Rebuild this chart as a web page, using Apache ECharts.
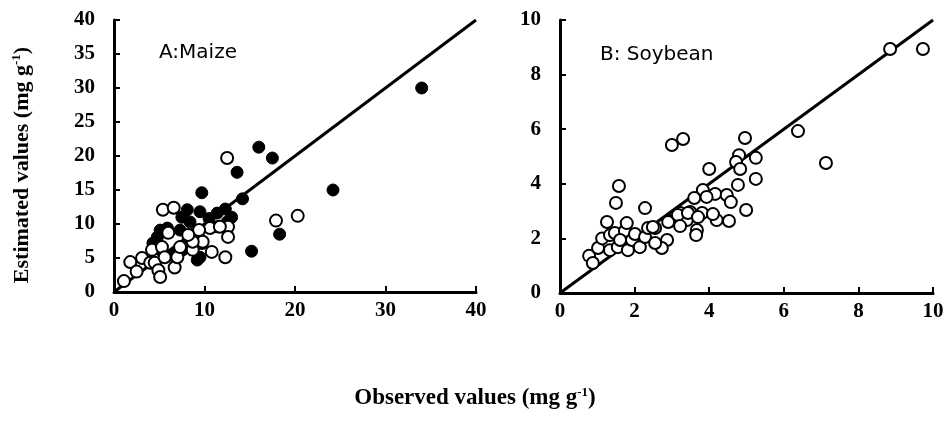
<!DOCTYPE html>
<html>
<head>
<meta charset="utf-8">
<script src="https://cdn.jsdelivr.net/npm/echarts@6/dist/echarts.min.js"></script>
<style>
  html, body { margin: 0; padding: 0; background: #fff; }
  #main { width: 947px; height: 422px; }
</style>
</head>
<body>
<div id="main"></div>
<script>
// Panel A: maize, [observed, estimated]
var maizeFilled = [
  [34, 30], [24.2, 15], [18.3, 8.5], [16, 21.3], [17.5, 19.7], [15.2, 6],
  [13.6, 17.6], [9.7, 14.6], [14.2, 13.7], [8.1, 12.1], [9.5, 11.8], [8.4, 10.3],
  [11.4, 11.6], [12.3, 12.2], [4.8, 8.1], [5.1, 6.2], [7.3, 9.1], [7.6, 6.2],
  [9.2, 4.7], [9.5, 5.1], [8.4, 7.6], [6.4, 5.4], [9.3, 8.7], [11.4, 9.6],
  [12.5, 10.3], [5.1, 9.1], [5.9, 9.4], [7.5, 11.0], [4.3, 7.2], [10.5, 10.8],
  [13, 11], [8.8, 8.5]
];
var maizeOpen = [
  [12.5, 19.7], [17.9, 10.5], [20.3, 11.2], [12.3, 5.1], [12.6, 9.6], [12.6, 8.1],
  [10.6, 9.4], [9.4, 9.1], [9.7, 7.2], [8.3, 6.6], [1.1, 1.6], [1.8, 4.4],
  [2.5, 3.0], [3.1, 5.0], [4.0, 4.3], [4.2, 6.2], [4.5, 4.3], [4.9, 3.2],
  [5.1, 2.2], [5.3, 6.6], [5.6, 5.1], [6.0, 8.7], [5.4, 12.1], [6.6, 12.4],
  [6.7, 3.6], [7.0, 5.1], [7.3, 6.6], [8.7, 6.2], [9.8, 7.4], [10.8, 5.9],
  [11.7, 9.6], [8.7, 7.4], [8.2, 8.4]
];
// Panel B: soybean
var soyOpen = [
  [8.85, 8.94], [9.73, 8.94], [6.38, 5.93], [7.13, 4.76], [3.0, 5.42], [3.3, 5.64],
  [4.96, 5.68], [4.8, 5.05], [5.25, 4.95], [4.72, 4.8], [4.83, 4.54], [4.0, 4.54],
  [5.25, 4.18], [4.77, 3.96], [4.99, 3.04], [3.83, 3.77], [3.6, 3.48], [4.16, 3.63],
  [4.47, 3.59], [4.58, 3.33], [3.93, 3.52], [4.2, 2.67], [4.53, 2.64], [3.49, 2.97],
  [3.22, 2.93], [2.95, 2.64], [3.81, 2.93], [4.1, 2.89], [3.67, 2.31], [3.65, 2.12],
  [3.4, 2.67], [2.87, 1.94], [2.73, 1.65], [2.55, 2.38], [2.9, 2.6], [3.16, 2.86],
  [3.43, 2.93], [3.22, 2.45], [3.7, 2.78], [1.58, 3.92], [1.5, 3.3], [2.28, 3.11],
  [1.26, 2.6], [0.78, 1.36], [0.88, 1.1], [1.02, 1.65], [1.13, 2.0], [1.34, 2.12],
  [1.34, 1.57], [1.55, 1.68], [1.47, 2.2], [1.74, 2.27], [1.61, 1.94], [1.82, 1.57],
  [1.93, 1.94], [2.01, 2.16], [2.14, 1.68], [2.28, 2.05], [2.36, 2.38], [2.49, 2.42],
  [2.55, 1.83], [1.79, 2.56]
];
// 1:1 lines
var lineA = [[0, 0], [40, 40]];
var lineB = [[0, 0], [10, 10]];

var serif = 'Liberation Serif';
var chart = echarts.init(document.getElementById('main'));

function xAxis(idx, max, interval) {
  return {
    gridIndex: idx, type: 'value', min: 0, max: max, interval: interval,
    axisLine: { show: true, lineStyle: { color: '#000', width: 3 } },
    axisTick: { show: true, inside: true, length: 6, lineStyle: { color: '#000', width: 2 } },
    axisLabel: { color: '#000', fontFamily: serif, fontWeight: 'bold', fontSize: 21, margin: 8 },
    splitLine: { show: false }
  };
}
function yAxis(idx, max, interval) {
  return {
    gridIndex: idx, type: 'value', min: 0, max: max, interval: interval,
    axisLine: { show: true, lineStyle: { color: '#000', width: 3 } },
    axisTick: { show: true, inside: true, length: 6, lineStyle: { color: '#000', width: 2 } },
    axisLabel: { color: '#000', fontFamily: serif, fontWeight: 'bold', fontSize: 21, margin: 19 },
    splitLine: { show: false }
  };
}

var openStyle = { color: '#fff', borderColor: '#000', borderWidth: 2, opacity: 1 };
var fillStyle = { color: '#000', borderColor: '#000', borderWidth: 1, opacity: 1 };

var option = {
  backgroundColor: '#fff',
  animation: false,
  grid: [
    { left: 114, right: 471, top: 20, bottom: 130 },
    { left: 560, right: 14, top: 20, bottom: 129 }
  ],
  xAxis: [xAxis(0, 40, 10), xAxis(1, 10, 2)],
  yAxis: [yAxis(0, 40, 5), yAxis(1, 10, 2)],
  graphic: [
    { type: 'text', left: 159, top: 43,
      style: { text: 'A:Maize', font: '20px "DejaVu Sans"', fill: '#000' } },
    { type: 'text', left: 600, top: 45,
      style: { text: 'B: Soybean', font: '20px "DejaVu Sans"', fill: '#000' } },
    { type: 'text', x: 22, y: 165, rotation: Math.PI / 2, origin: [0, 0],
      style: {
        text: '{t|Estimated values (mg g}{s|-1}{t|)}', align: 'center', verticalAlign: 'middle',
        rich: {
          t: { font: 'bold 22px "Liberation Serif"', fill: '#000' },
          s: { font: 'bold 13px "Liberation Serif"', fill: '#000', verticalAlign: 'top', padding: [0, 0, 10, 0] }
        }
      } },
    { type: 'text', x: 475, y: 398,
      style: {
        text: '{t|Observed values (mg g}{s|-1}{t|)}', align: 'center', verticalAlign: 'middle',
        rich: {
          t: { font: 'bold 23px "Liberation Serif"', fill: '#000' },
          s: { font: 'bold 13px "Liberation Serif"', fill: '#000', verticalAlign: 'top', padding: [0, 0, 10, 0] }
        }
      } }
  ],
  series: [
    { type: 'line', xAxisIndex: 0, yAxisIndex: 0, data: lineA, symbol: 'none',
      lineStyle: { color: '#000', width: 3 }, z: 1 },
    { type: 'line', xAxisIndex: 1, yAxisIndex: 1, data: lineB, symbol: 'none',
      lineStyle: { color: '#000', width: 3 }, z: 1 },
    { type: 'scatter', xAxisIndex: 0, yAxisIndex: 0, data: maizeFilled,
      symbolSize: 12, itemStyle: fillStyle, z: 2 },
    { type: 'scatter', xAxisIndex: 0, yAxisIndex: 0, data: maizeOpen,
      symbolSize: 12, itemStyle: openStyle, z: 3 },
    { type: 'scatter', xAxisIndex: 1, yAxisIndex: 1, data: soyOpen,
      symbolSize: 12, itemStyle: openStyle, z: 3 }
  ]
};
chart.setOption(option);
</script>
</body>
</html>
